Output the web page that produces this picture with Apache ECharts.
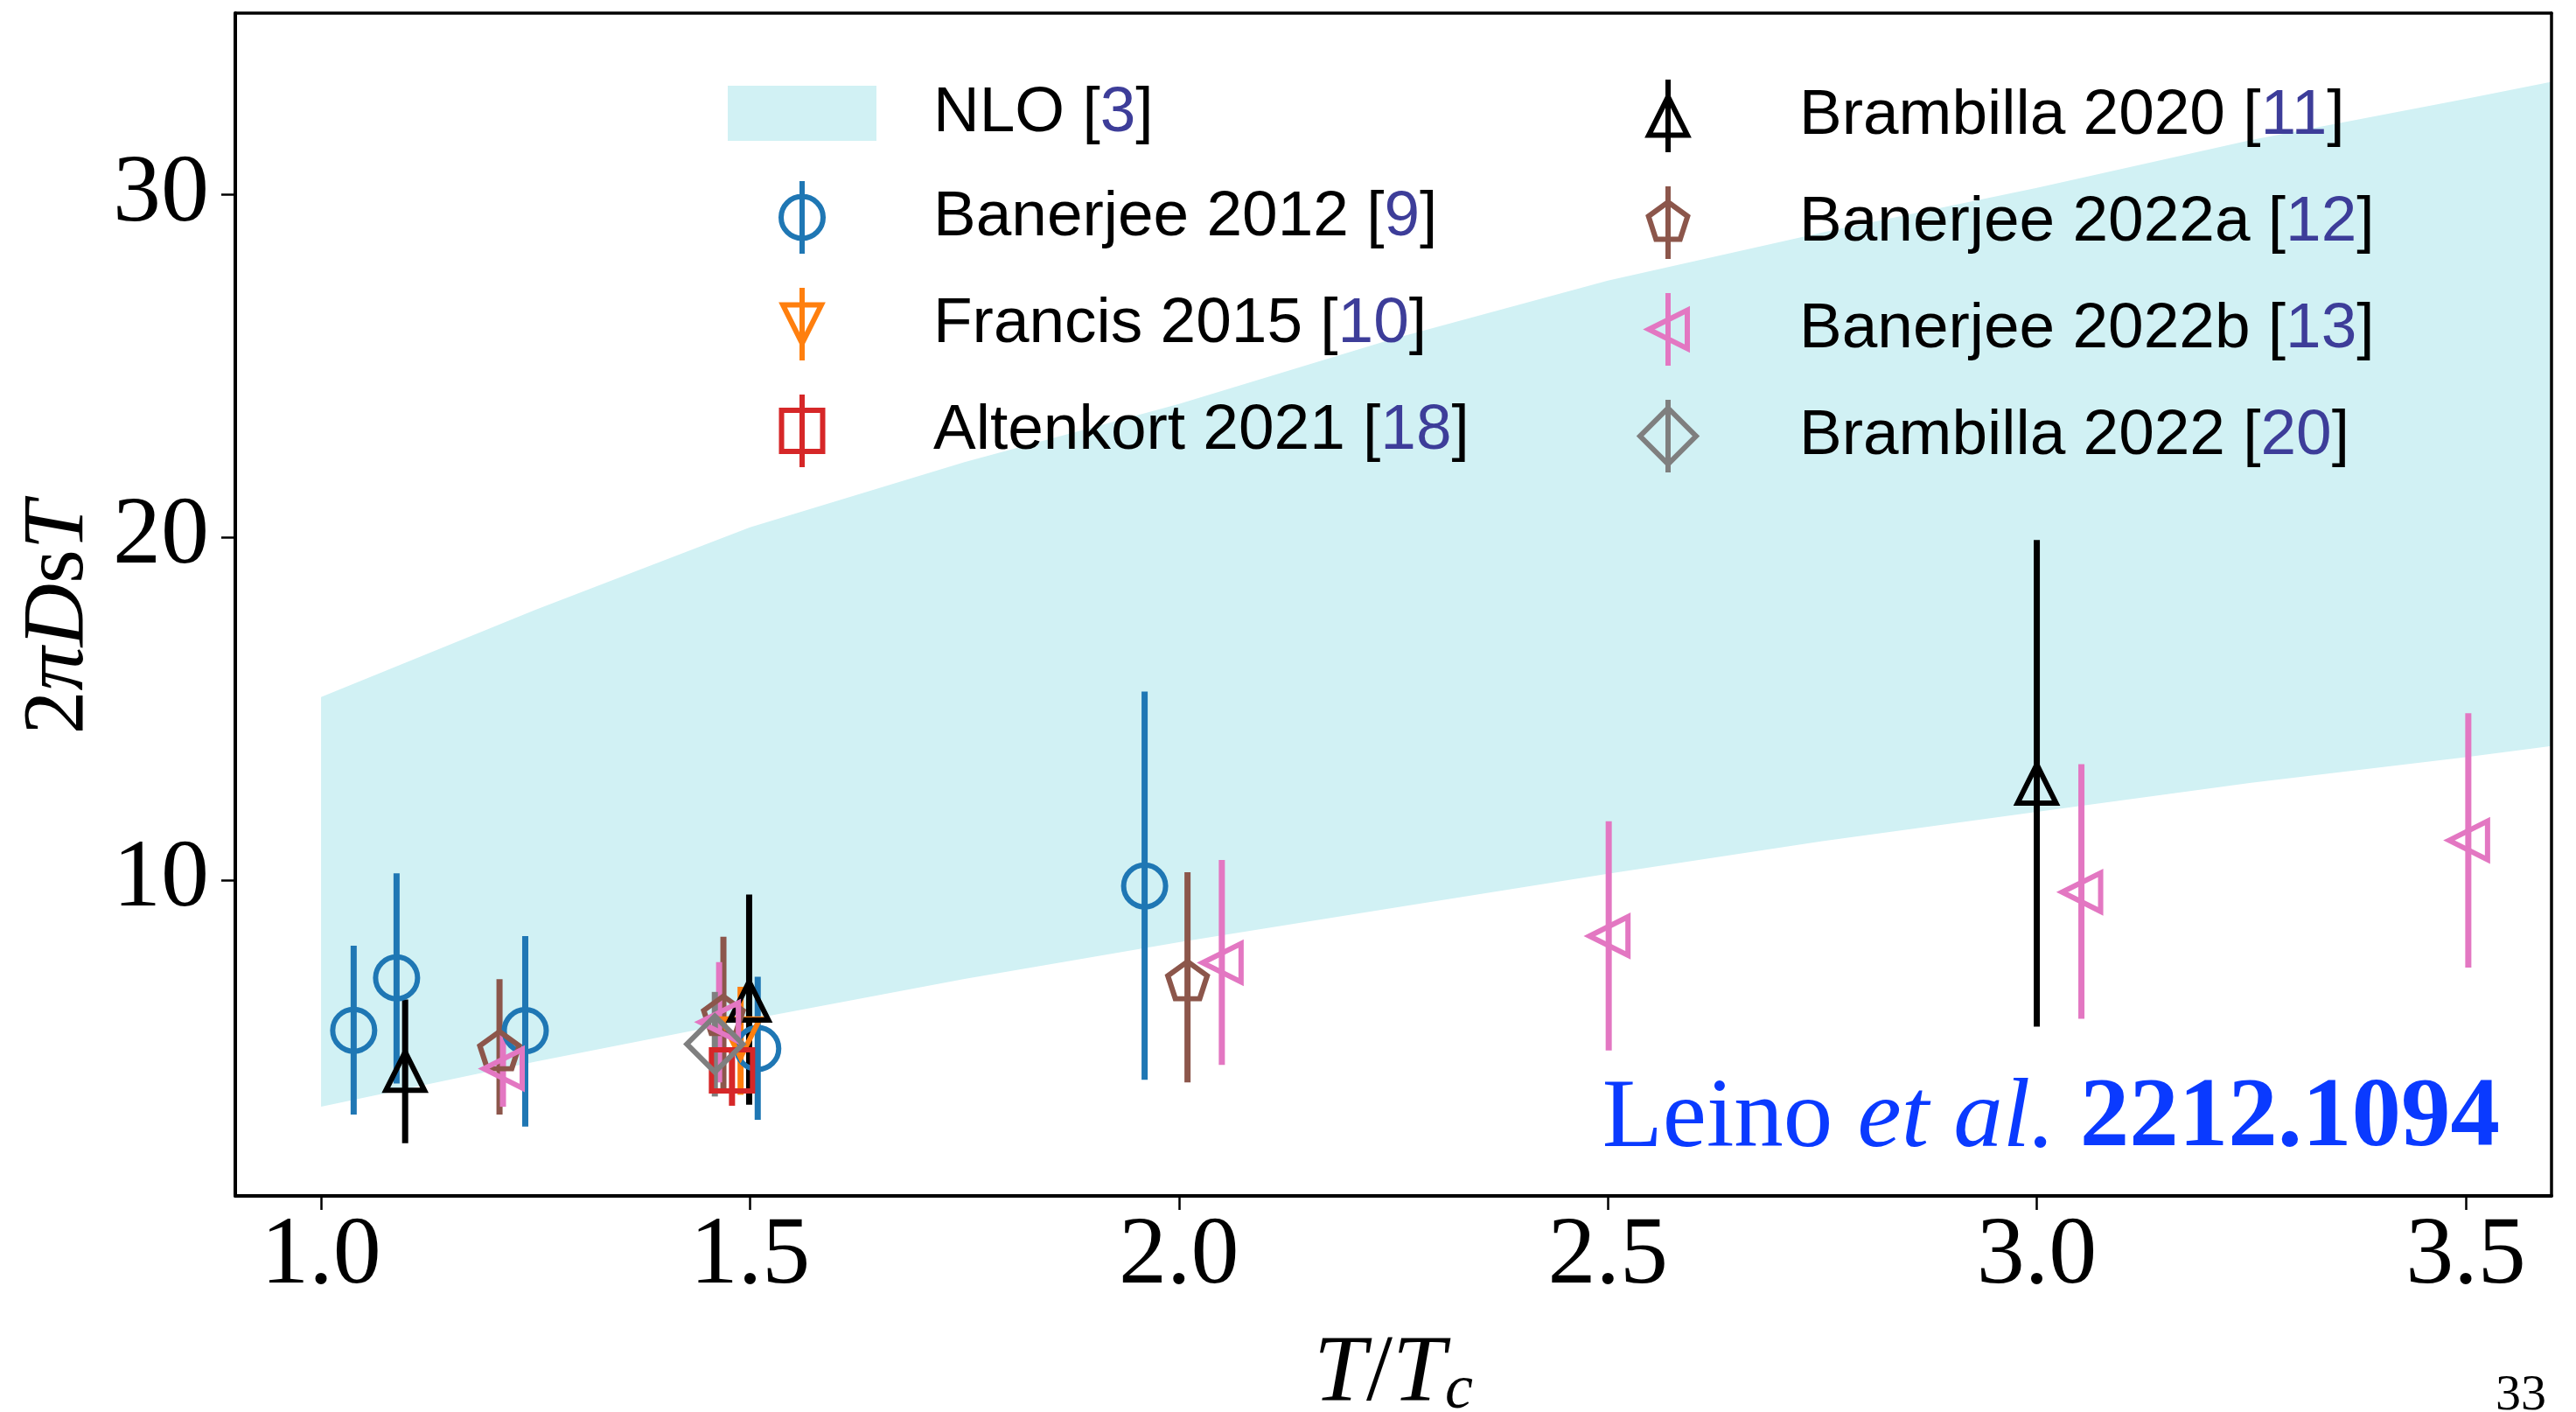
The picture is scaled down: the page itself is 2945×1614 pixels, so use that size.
<!DOCTYPE html>
<html>
<head>
<meta charset="utf-8">
<style>
  html, body { margin: 0; padding: 0; background: #fff; }
  #main { width: 2945px; height: 1614px; }
</style>
<script src="https://cdn.jsdelivr.net/npm/echarts@6/dist/echarts.min.js"></script>
</head>
<body>
<div id="main"></div>
<script>
// NLO band
var bandX = [1.0, 1.25, 1.5, 1.75, 2.0, 2.25, 2.5, 2.75, 3.0, 3.25, 3.5, 3.6];
var bandLow = [3.4, 4.72, 5.95, 7.13, 8.2, 9.2, 10.2, 11.15, 12.0, 12.85, 13.6, 13.92];
var bandHigh = [15.35, 17.9, 20.3, 22.2, 23.9, 25.8, 27.5, 28.9, 30.2, 31.6, 32.8, 33.3];

// lattice results: [T/Tc, value, lower end, upper end]
var banerjee2012 = [[1.038, 5.63, 3.17, 8.10], [1.088, 7.16, 4.08, 10.21], [1.238, 5.62, 2.82, 8.38], [1.509, 5.10, 3.02, 7.19], [1.960, 9.84, 4.19, 15.51]];
var francis2015 = [[1.489, 5.40, 3.75, 6.90]];
var altenkort2021 = [[1.479, 4.46, 3.43, 5.10]];
var brambilla2020 = [[1.098, 4.44, 2.34, 6.53], [1.499, 6.49, 3.46, 9.59], [3.000, 12.82, 5.74, 19.93]];
var banerjee2022a = [[1.208, 5.11, 3.17, 7.12], [1.469, 6.14, 3.91, 8.36], [2.010, 7.15, 4.11, 10.24]];
var banerjee2022b = [[1.212, 4.51, 3.40, 5.57], [1.464, 5.87, 4.11, 7.62], [2.050, 7.60, 4.62, 10.60], [2.501, 8.38, 5.04, 11.73], [3.052, 9.66, 5.97, 13.39], [3.503, 11.17, 7.46, 14.88]];
var brambilla2022 = [[1.459, 5.23, 3.70, 6.75]];

var xTicks = [1.0, 1.5, 2.0, 2.5, 3.0, 3.5];
var yTicks = [10, 20, 30];

var refs = {
  'NLO': '3', 'Banerjee 2012': '9', 'Francis 2015': '10', 'Altenkort 2021': '18',
  'Brambilla 2020': '11', 'Banerjee 2022a': '12', 'Banerjee 2022b': '13', 'Brambilla 2022': '20'
};

var bandColor = 'rgb(209,241,244)';
var refColor = '#3d3d99';
var serif = 'Liberation Serif';
var sans = 'Liberation Sans';

// marker shapes for the plot and for the legend (legend ones carry the error bar)
var bar = 'M0,-41.5L0,41.5';
var sets = [
  { name: 'Banerjee 2012', color: '#1f77b4', data: banerjee2012, symbol: 'circle', size: 48,
    icon: 'path://' + bar + 'M24,0A24,24,0,1,1,-24,0A24,24,0,1,1,24,0Z' },
  { name: 'Francis 2015', color: '#ff7f0e', data: francis2015, symbol: 'path://M0,0L2,0L1,2Z', size: 44,
    icon: 'path://' + bar + 'M-22,-22L22,-22L0,22Z' },
  { name: 'Altenkort 2021', color: '#d62728', data: altenkort2021, symbol: 'rect', size: 47,
    icon: 'path://' + bar + 'M-23.5,-23.5L23.5,-23.5L23.5,23.5L-23.5,23.5Z' },
  { name: 'Brambilla 2020', color: '#000000', data: brambilla2020, symbol: 'triangle', size: 44,
    icon: 'path://' + bar + 'M0,-22L22,22L-22,22Z' },
  { name: 'Banerjee 2022a', color: '#8c564b', data: banerjee2022a,
    symbol: 'path://M0,-23.5L22.35,-7.26L13.81,19.01L-13.81,19.01L-22.35,-7.26Z', size: [45, 42.5], offset: [0, 2.25],
    icon: 'path://' + bar + 'M0,-23.5L22.35,-7.26L13.81,19.01L-13.81,19.01L-22.35,-7.26Z' },
  { name: 'Banerjee 2022b', color: '#e377c2', data: banerjee2022b, symbol: 'path://M0,1L2,0L2,2Z', size: 44,
    icon: 'path://' + bar + 'M-22,0L22,-22L22,22Z' },
  { name: 'Brambilla 2022', color: '#7f7f7f', data: brambilla2022, symbol: 'diamond', size: 64,
    icon: 'path://' + bar + 'M0,-32L32,0L0,32L-32,0Z' }
];

var series = [];

series.push({
  type: 'custom',
  name: 'NLO',
  silent: true,
  z: 1,
  data: bandX.map(function(x, i) { return [x, bandLow[i], bandHigh[i]]; }),
  encode: { x: 0, y: [1, 2] },
  renderItem: function(params, api) {
    if (params.dataIndex !== 0) return;
    var pts = [];
    for (var i = 0; i < bandX.length; i++) pts.push(api.coord([bandX[i], bandHigh[i]]));
    for (var j = bandX.length - 1; j >= 0; j--) pts.push(api.coord([bandX[j], bandLow[j]]));
    return { type: 'polygon', shape: { points: pts }, style: { fill: bandColor } };
  }
});

sets.forEach(function(s) {
  series.push({
    type: 'custom',
    name: s.name,
    silent: true,
    z: 2,
    data: s.data.map(function(d) { return [d[0], d[2], d[3]]; }),
    encode: { x: 0, y: [1, 2] },
    renderItem: function(params, api) {
      var p1 = api.coord([api.value(0), api.value(1)]);
      var p2 = api.coord([api.value(0), api.value(2)]);
      return { type: 'line', shape: { x1: p1[0], y1: p1[1], x2: p2[0], y2: p2[1] },
               style: { stroke: s.color, lineWidth: 7 } };
    }
  });
  series.push({
    type: 'scatter',
    name: s.name,
    silent: true,
    z: 2,
    data: s.data.map(function(d) { return [d[0], d[1]]; }),
    symbol: s.symbol,
    symbolSize: s.size,
    symbolOffset: s.offset || [0, 0],
    itemStyle: { color: 'transparent', borderColor: s.color, borderWidth: 6, opacity: 1 }
  });
});

function legendItem(s) {
  return { name: s.name, icon: s.icon,
           itemStyle: { color: 'transparent', borderColor: s.color, borderWidth: 6 } };
}

var legendText = {
  fontFamily: sans, fontSize: 73, color: '#000', lineHeight: 83,
  rich: {
    s: { width: 60, fontSize: 73, lineHeight: 83 },
    t: { fontFamily: sans, fontSize: 73, color: '#000', lineHeight: 83 },
    r: { fontFamily: sans, fontSize: 73, color: refColor, lineHeight: 83 }
  }
};
function legendFormat(name) {
  return '{s|}{t|' + name + ' [}{r|' + refs[name] + '}{t|]}';
}

var legendBase = {
  orient: 'vertical', top: 88, padding: 0,
  itemWidth: 170, itemHeight: 83, itemGap: 33,
  selectedMode: false, symbolKeepAspect: true,
  formatter: legendFormat, textStyle: legendText
};

var col1 = [{ name: 'NLO', icon: 'path://M0,0L170,0L170,63L0,63Z', itemStyle: { color: bandColor, borderWidth: 0 } }]
  .concat(sets.slice(0, 3).map(legendItem));
var col2 = sets.slice(3).map(legendItem);

var chart = echarts.init(document.getElementById('main'), null, { renderer: 'canvas' });
chart.setOption({
  animation: false,
  backgroundColor: '#fff',
  grid: { left: 269, right: 28, top: 15, bottom: 247, show: false, outerBoundsMode: 'none', containLabel: false },
  legend: [
    Object.assign({}, legendBase, { left: 832, data: col1 }),
    Object.assign({}, legendBase, { left: 1872, data: col2 })
  ],
  xAxis: [{
    type: 'value', min: 0.9, max: 3.6, z: 5,
    axisLine: { show: true, onZero: false, lineStyle: { color: '#000', width: 4 } },
    axisTick: { show: true, customValues: xTicks, length: 16, lineStyle: { color: '#000', width: 2.5 } },
    axisLabel: { customValues: xTicks, formatter: function(v) { return v.toFixed(1); },
                 fontFamily: serif, fontSize: 110, color: '#000', margin: 15 },
    splitLine: { show: false },
    name: '{i|T}{n|/}{i|T}{c|c}',
    nameLocation: 'middle', nameGap: 151,
    nameTextStyle: {
      color: '#000',
      rich: {
        i: { fontFamily: serif, fontStyle: 'italic', fontSize: 108, color: '#000' },
        n: { fontFamily: serif, fontSize: 108, color: '#000' },
        c: { fontFamily: serif, fontStyle: 'italic', fontSize: 72, lineHeight: 56, verticalAlign: 'bottom', color: '#000' }
      }
    }
  }, {
    type: 'value', min: 0.9, max: 3.6, position: 'top', z: 5,
    axisLine: { show: true, onZero: false, lineStyle: { color: '#000', width: 3.5 } },
    axisTick: { show: false }, axisLabel: { show: false }, splitLine: { show: false }
  }],
  yAxis: [{
    type: 'value', min: 0.8, max: 35.3, z: 5,
    axisLine: { show: true, onZero: false, lineStyle: { color: '#000', width: 4 } },
    axisTick: { show: true, customValues: yTicks, length: 16, lineStyle: { color: '#000', width: 2.5 } },
    axisLabel: { customValues: yTicks, fontFamily: serif, fontSize: 110, color: '#000', margin: 30 },
    splitLine: { show: false },
    name: '{n|2}{i|πD}{n|s}{i|T}',
    nameLocation: 'middle', nameRotate: 90, nameGap: 93,
    nameTextStyle: {
      color: '#000',
      padding: [0, 30, 0, 0],
      rich: {
        i: { fontFamily: serif, fontStyle: 'italic', fontSize: 100, color: '#000' },
        n: { fontFamily: serif, fontSize: 100, color: '#000' }
      }
    }
  }, {
    type: 'value', min: 0.8, max: 35.3, position: 'right', z: 5,
    axisLine: { show: true, onZero: false, lineStyle: { color: '#000', width: 3.5 } },
    axisTick: { show: false }, axisLabel: { show: false }, splitLine: { show: false }
  }],
  graphic: [{
    type: 'text', x: 2858, y: 1280, z: 10,
    style: {
      text: '{a|Leino }{b|et al.}{c| 2212.1094}',
      align: 'right', textAlign: 'right', verticalAlign: 'middle', textVerticalAlign: 'middle',
      rich: {
        a: { fontFamily: serif, fontSize: 113, fill: '#0a3aff' },
        b: { fontFamily: serif, fontStyle: 'italic', fontSize: 113, fill: '#0a3aff' },
        c: { fontFamily: serif, fontWeight: 'bold', fontSize: 113, fill: '#0a3aff' }
      }
    }
  }, {
    type: 'text', x: 2911, y: 1596,
    style: { text: '33', fontFamily: serif, fontSize: 58, fill: '#000',
             align: 'right', textAlign: 'right', verticalAlign: 'middle', textVerticalAlign: 'middle' }
  }],
  series: series
});

window.addEventListener('resize', function() { chart.resize(); });
</script>
</body>
</html>
